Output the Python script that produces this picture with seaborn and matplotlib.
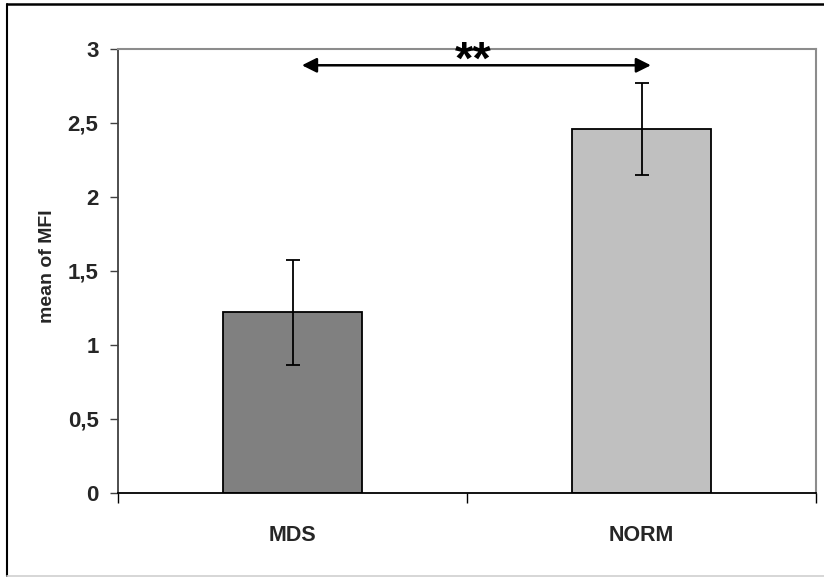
import numpy as np
import pandas as pd
import matplotlib
matplotlib.use('Agg')
import matplotlib.pyplot as plt
import seaborn as sns
from matplotlib.lines import Line2D

groups = ['MDS', 'NORM']
means = [1.22, 2.46]
errs = [0.355, 0.31]
bar_colors = ['#808080', '#c0c0c0']
yticks = [0, 0.5, 1, 1.5, 2, 2.5, 3]
ytick_labels = ['0', '0,5', '1', '1,5', '2', '2,5', '3']

df = pd.DataFrame({'group': groups, 'mean': means, 'err': errs})

sns.set_style('white')
plt.rcParams['font.family'] = ['Liberation Sans', 'DejaVu Sans']
plt.rcParams['font.weight'] = 'bold'

fig = plt.figure(figsize=(8.24, 5.78), dpi=100)
ax = fig.add_axes([118/824, 1 - 493/578, (816 - 118)/824, (493 - 49)/578])

sns.barplot(data=df, x='group', y='mean', hue='group', palette=bar_colors,
            width=0.4, edgecolor='black', linewidth=1.3, legend=False, ax=ax)
ax.errorbar(range(len(groups)), df['mean'], yerr=df['err'], fmt='none',
            ecolor='black', elinewidth=1.3, capsize=5.3, capthick=1.3)

ax.set_xlim(-0.5, 1.5)
ax.set_ylim(0, 3)
ax.set_yticks(yticks)
ax.set_yticklabels(ytick_labels, fontsize=16, fontweight='bold')
ax.set_xticks([0, 1])
ax.set_xticklabels(groups, fontsize=15.5, fontweight='bold')
ax.set_xticks([-0.5, 0.5, 1.5], minor=True)
ax.tick_params(axis='x', which='major', bottom=True, length=0, pad=23)
ax.tick_params(axis='x', which='minor', bottom=True, length=7, width=1,
               color='black', direction='out')
ax.tick_params(axis='y', left=True, length=6, width=1, color='#404040',
               direction='out', pad=8)
ax.set_xlabel('')
ax.set_ylabel('mean of MFI', fontsize=14, fontweight='bold')
ax.yaxis.set_label_coords(-0.089, 0.511)

for side in ['top', 'right']:
    ax.spines[side].set_color('#8c8c8c')
    ax.spines[side].set_linewidth(1.5)
ax.spines['left'].set_color('#404040')
ax.spines['left'].set_linewidth(1.3)
ax.spines['bottom'].set_color('black')
ax.spines['bottom'].set_linewidth(1.3)

# significance arrow
ax.annotate('', xy=(1.027, 2.89), xytext=(0.027, 2.89),
            arrowprops=dict(arrowstyle='<|-|>', color='black', lw=1.8,
                            mutation_scale=22, shrinkA=0, shrinkB=0))
ax.text(0.517, 2.83, '**', ha='center', va='baseline', fontsize=34,
        fontweight='bold', color='black')

# chart frame
fig.add_artist(Line2D([7/824, 1], [1 - 4/578, 1 - 4/578], color='black', lw=1.8))
fig.add_artist(Line2D([7/824, 7/824], [1 - 4/578, 1 - 576/578], color='black', lw=1.5))
fig.add_artist(Line2D([7/824, 1], [1 - 576/578, 1 - 576/578], color='#d0d0d0', lw=1.2))

fig.savefig('out.png', dpi=100)
